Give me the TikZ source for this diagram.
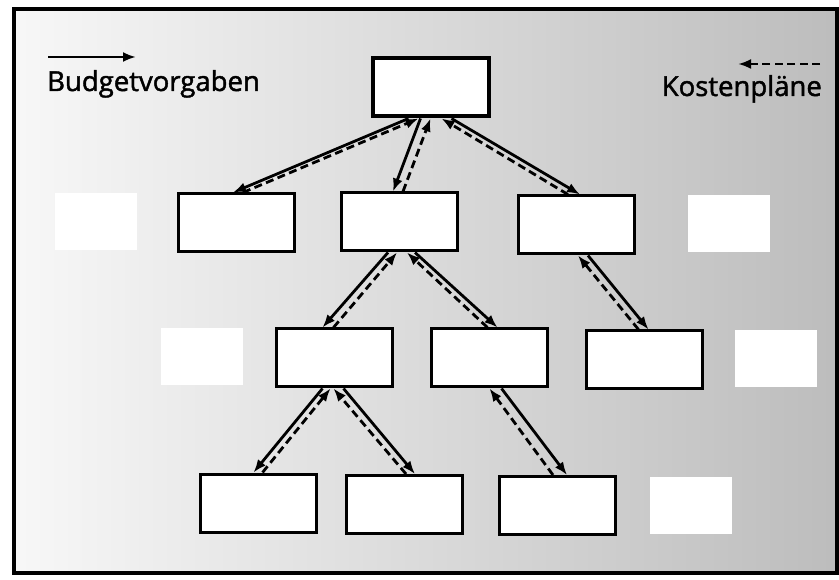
\documentclass[tikz,border=0pt]{standalone}
\usepackage{fontspec}
\setmainfont{Open Sans}
\newfontfamily\legfont{Open Sans}[FakeBold=1.6]
\usetikzlibrary{arrows.meta}

\begin{document}
\begin{tikzpicture}[x=1pt,y=-1pt,
		box/.style={draw,line width=3pt,fill=white,minimum width=116pt,minimum height=58pt,inner sep=0pt},
		ghost/.style={fill=white,minimum width=82pt,minimum height=57pt,inner sep=0pt},
		vorgabe/.style={line width=2.8pt,-{Latex[length=13pt,width=10pt]}},
		kosten/.style={vorgabe,dash pattern=on 8pt off 4.5pt},
		legende/.style={font=\legfont\fontsize{27.5}{32}\selectfont,inner sep=0pt}]
		\useasboundingbox (0,0) rectangle (839,580);
		\shade[left color=black!3,right color=black!26] (14,9) rectangle (837,573);
		\draw[line width=3.2pt] (14,9) rectangle (837,573);
		\node[ghost] (g1) at (96,222) {};
		\node[ghost] (g2) at (729,224) {};
		\node[ghost] (g3) at (202,357) {};
		\node[ghost] (g4) at (776,359) {};
		\node[ghost] (g5) at (691,505) {};
		\node[box,line width=4pt] (root) at (430.5,87.5) {};
		\node[box] (a1) at (236,223) {};
		\node[box] (a2) at (399,222) {};
		\node[box] (a3) at (576,225) {};
		\node[box] (b1) at (334.5,358) {};
		\node[box] (b2) at (489.5,358) {};
		\node[box] (b3) at (644.5,360) {};
		\node[box] (c1) at (258.5,503) {};
		\node[box] (c2) at (404,504.5) {};
		\node[box] (c3) at (557,505.5) {};
		\draw[vorgabe] ([xshift=-22pt]root.south) -- ([xshift=-3pt]a1.north);
		\draw[kosten] ([xshift=7pt]a1.north) -- ([xshift=-12pt]root.south);
		\draw[vorgabe] ([xshift=-10pt]root.south) -- ([xshift=-6pt]a2.north);
		\draw[kosten] ([xshift=4pt]a2.north) -- ([xshift=0pt]root.south);
		\draw[vorgabe] ([xshift=21pt]root.south) -- ([xshift=4pt]a3.north);
		\draw[kosten] ([xshift=-8pt]a3.north) -- ([xshift=11pt]root.south);
		\draw[vorgabe] ([xshift=-11pt]a2.south) -- ([xshift=-12pt]b1.north);
		\draw[kosten] ([xshift=-1pt]b1.north) -- ([xshift=-2pt]a2.south);
		\draw[vorgabe] ([xshift=16pt]a2.south) -- ([xshift=8pt]b2.north);
		\draw[kosten] ([xshift=-2pt]b2.north) -- ([xshift=8pt]a2.south);
		\draw[vorgabe] ([xshift=12pt]a3.south) -- ([xshift=4pt]b3.north);
		\draw[kosten] ([xshift=-6pt]b3.north) -- ([xshift=2pt]a3.south);
		\draw[vorgabe] ([xshift=-12pt]b1.south) -- ([xshift=-5pt]c1.north);
		\draw[kosten] ([xshift=4pt]c1.north) -- ([xshift=-4pt]b1.south);
		\draw[vorgabe] ([xshift=9pt]b1.south) -- ([xshift=11pt]c2.north);
		\draw[kosten] ([xshift=2pt]c2.north) -- ([xshift=-1pt]b1.south);
		\draw[vorgabe] ([xshift=12pt]b2.south) -- ([xshift=10pt]c3.north);
		\draw[kosten] ([xshift=-4pt]c3.north) -- ([xshift=0pt]b2.south);
		\coordinate (bv1) at (48,57);
		\coordinate (bv2) at (136,57);
		\draw[vorgabe] (bv1) -- (bv2);
		\coordinate (kp1) at (820,64);
		\coordinate (kp2) at (738,64);
		\draw[kosten] (kp1) -- (kp2);
		\node[legende,anchor=base west] (bvtext) at (47,91) {Budgetvorgaben};
		\node[legende,anchor=base east] (kptext) at (822,96) {Kostenpläne};
	\end{tikzpicture}
\end{document}
